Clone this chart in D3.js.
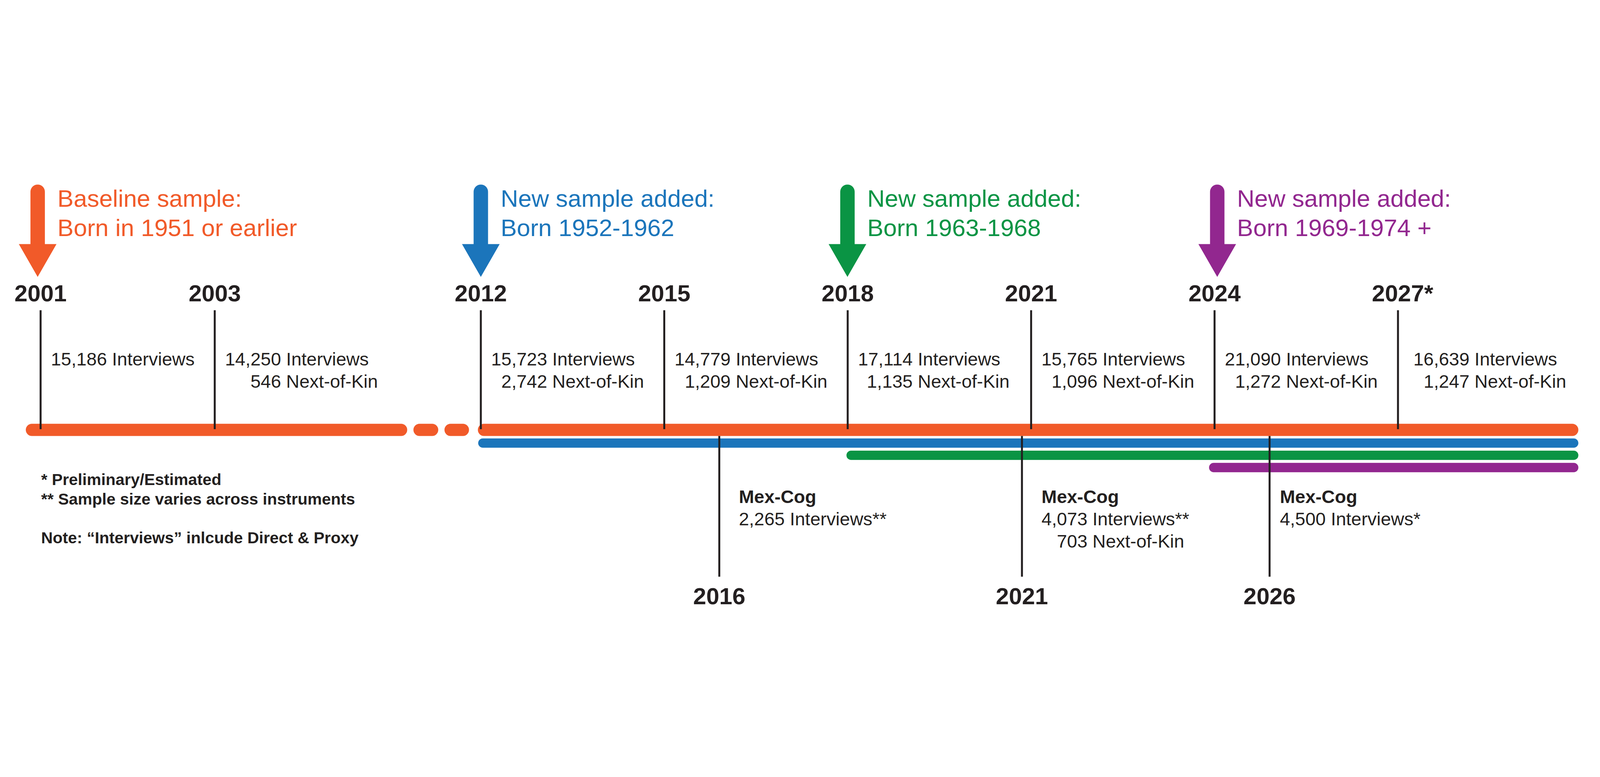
<!DOCTYPE html>
<html>
<head>
<meta charset="utf-8">
<script src="https://cdn.jsdelivr.net/npm/d3@7"></script>
<style>
  html, body { margin: 0; padding: 0; background: #fff; overflow: hidden; }
  svg { display: block; }
  text { font-family: "Liberation Sans", Arial, Helvetica, sans-serif; fill: #231F20; }
</style>
</head>
<body>
<div id="timeline"></div>
<script>
// main survey waves (top row)
const waveYears = [2001, 2003, 2012, 2015, 2018, 2021, 2024, 2027];
const waveLabels = ["2001", "2003", "2012", "2015", "2018", "2021", "2024", "2027*"];
const waveInterviews = ["15,186", "14,250", "15,723", "14,779", "17,114", "15,765", "21,090", "16,639"];
const waveNextOfKin = [null, "546", "2,742", "1,209", "1,135", "1,096", "1,272", "1,247"];

// sample cohorts (arrows + bars)
const cohortYears = [2001, 2012, 2018, 2024];
const cohortTitles = ["Baseline sample:", "New sample added:", "New sample added:", "New sample added:"];
const cohortBorn = ["Born in 1951 or earlier", "Born 1952-1962", "Born 1963-1968", "Born 1969-1974 +"];
const cohortColors = ["#F15A29", "#1B75BB", "#0A9444", "#92278F"];
const cohortBarStart = [2011.9, 2011.91, 2017.98, 2023.91];
const barEnd = 2029.95;
// the baseline bar before 2012 (broken: gap in the time axis)
const baselineLead = [[2000.83, 2009.51], [2009.72, 2010.56], [2010.77, 2011.6]];

// Mex-Cog waves (bottom row)
const mexYears = ["2016", "2021", "2026"];
const mexAt = [2015.9, 2020.85, 2024.9];
const mexInterviews = ["2,265", "4,073", "4,500"];
const mexMarks = ["**", "**", "*"];
const mexNextOfKin = [null, "703", null];

const notes = ["* Preliminary/Estimated", "** Sample size varies across instruments", "Note: \u201cInterviews\u201d inlcude Direct & Proxy"];

const width = 6542;
const height = 1988;

const x = d3.scaleLinear()
    .domain([2001, 2003, 2012, 2030])
    .range([166, 878, 1966, 6466]);

const svg = d3.select("#timeline")
    .append("svg")
    .attr("viewBox", `0 0 ${width} ${height}`)
    .style("width", "100vw")
    .style("height", "100vh");

function textWidth(str, size, weight) {
    const t = svg.append("text")
        .attr("font-size", size)
        .attr("font-weight", weight)
        .text(str);
    const w = t.node().getComputedTextLength();
    t.remove();
    return w;
}

// ---- bars
const barY = [1163, 1217, 1267, 1317];
const barH = [50, 38, 38, 38];

const bars = cohortYears.map((y, i) => ({ start: cohortBarStart[i], end: barEnd, i }));
baselineLead.forEach(s => bars.push({ start: s[0], end: s[1], i: 0 }));

svg.selectAll("rect.bar")
    .data(bars)
    .enter()
    .append("rect")
    .attr("class", "bar")
    .attr("x", d => x(d.start))
    .attr("y", d => barY[d.i] - barH[d.i] / 2)
    .attr("width", d => x(d.end) - x(d.start))
    .attr("height", d => barH[d.i])
    .attr("rx", d => barH[d.i] / 2)
    .attr("fill", d => cohortColors[d.i]);

// ---- arrows (drawn slightly off the tick in the original)
const arrowNudge = [-12, 0, -1, 11];

const arrow = svg.selectAll("g.arrow")
    .data(cohortYears)
    .enter()
    .append("g")
    .attr("class", "arrow")
    .attr("transform", (d, i) => `translate(${x(d) + arrowNudge[i]},0)`);

arrow.append("path")
    .attr("d", "M-29.5,404 L-29.5,190 A29.5,29.5 0 0 1 29.5,190 L29.5,404 L77,404 L0,538 L-77,404 Z")
    .attr("fill", (d, i) => cohortColors[i]);

arrow.append("text")
    .attr("x", 81)
    .attr("y", 252)
    .attr("font-size", 99)
    .style("fill", (d, i) => cohortColors[i])
    .text((d, i) => cohortTitles[i]);

arrow.append("text")
    .attr("x", 81)
    .attr("y", 371)
    .attr("font-size", 99)
    .style("fill", (d, i) => cohortColors[i])
    .text((d, i) => cohortBorn[i]);

// ---- top waves
const labelNudge = { 2027: 21 };

svg.selectAll("line.wave")
    .data(waveYears)
    .enter()
    .append("line")
    .attr("class", "wave")
    .attr("x1", d => x(d))
    .attr("x2", d => x(d))
    .attr("y1", 674)
    .attr("y2", 1160)
    .attr("stroke", "#231F20")
    .attr("stroke-width", 8);

waveYears.forEach((yr, i) => {
    const cx = x(yr);
    const label = waveLabels[i];
    const num = label.replace(/\*+$/, "");
    svg.append("text")
        .attr("x", cx - textWidth(num, 96, "bold") / 2)
        .attr("y", 638)
        .attr("font-size", 96)
        .attr("font-weight", "bold")
        .text(label);

    const x0 = cx + 42 + (labelNudge[yr] || 0);
    svg.append("text")
        .attr("x", x0)
        .attr("y", 900)
        .attr("font-size", 75)
        .text(waveInterviews[i] + " Interviews");

    if (waveNextOfKin[i]) {
        const w1 = textWidth(waveInterviews[i], 75, "normal");
        const w2 = textWidth(waveNextOfKin[i], 75, "normal");
        svg.append("text")
            .attr("x", x0 + w1 - w2)
            .attr("y", 991)
            .attr("font-size", 75)
            .text(waveNextOfKin[i] + " Next-of-Kin");
    }
});

// ---- Mex-Cog waves
const mexNudge = { 2026: -38 };

svg.selectAll("line.mex")
    .data(mexAt)
    .enter()
    .append("line")
    .attr("class", "mex")
    .attr("x1", d => x(d))
    .attr("x2", d => x(d))
    .attr("y1", 1188)
    .attr("y2", 1763)
    .attr("stroke", "#231F20")
    .attr("stroke-width", 8);

mexAt.forEach((pos, i) => {
    const cx = x(pos);
    svg.append("text")
        .attr("x", cx)
        .attr("y", 1876)
        .attr("text-anchor", "middle")
        .attr("font-size", 96)
        .attr("font-weight", "bold")
        .text(mexYears[i]);

    const x0 = cx + 80 + (mexNudge[mexYears[i]] || 0);
    svg.append("text")
        .attr("x", x0)
        .attr("y", 1462)
        .attr("font-size", 75)
        .attr("font-weight", "bold")
        .text("Mex-Cog");

    svg.append("text")
        .attr("x", x0)
        .attr("y", 1553)
        .attr("font-size", 75)
        .text(mexInterviews[i] + " Interviews" + mexMarks[i]);

    if (mexNextOfKin[i]) {
        const w1 = textWidth(mexInterviews[i], 75, "normal");
        const w2 = textWidth(mexNextOfKin[i], 75, "normal");
        svg.append("text")
            .attr("x", x0 + w1 - w2)
            .attr("y", 1644)
            .attr("font-size", 75)
            .text(mexNextOfKin[i] + " Next-of-Kin");
    }
});

// ---- notes
svg.selectAll("text.note")
    .data(notes)
    .enter()
    .append("text")
    .attr("class", "note")
    .attr("x", 168)
    .attr("y", (d, i) => [1388, 1468, 1627][i])
    .attr("font-size", 66)
    .attr("font-weight", "bold")
    .text(d => d);
</script>
</body>
</html>
